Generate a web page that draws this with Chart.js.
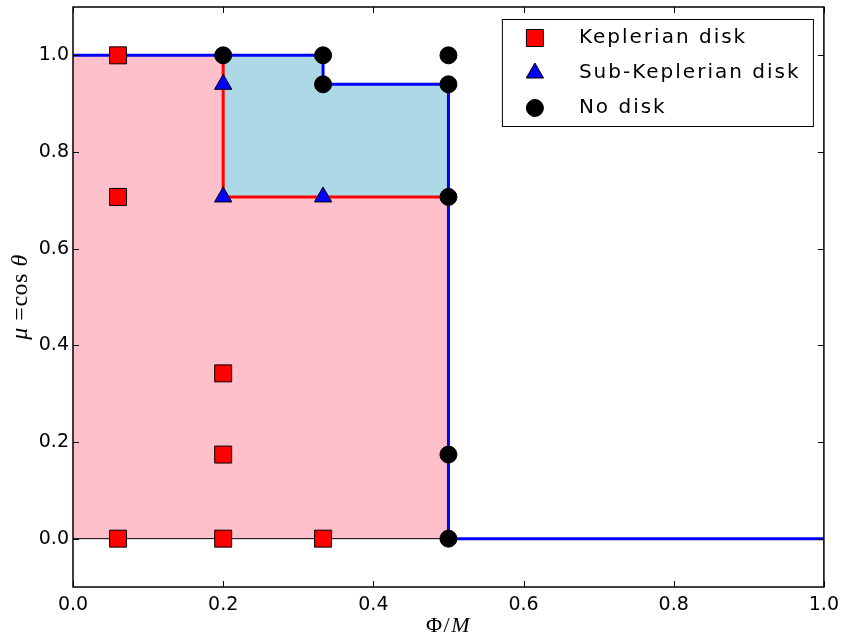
<!DOCTYPE html>
<html>
<head>
<meta charset="utf-8">
<script src="https://cdn.jsdelivr.net/npm/chart.js@4/dist/chart.umd.min.js"></script>
<style>
  html, body { margin: 0; padding: 0; background: #fff; }
  #wrap { width: 846px; height: 639px; }
</style>
</head>
<body>
<div id="wrap"><canvas id="c" width="846" height="639"></canvas></div>
<script>
// ---- data ----
const X_TICKS = [0.0, 0.2, 0.4, 0.6, 0.8, 1.0];
const Y_TICKS = [0.0, 0.2, 0.4, 0.6, 0.8, 1.0];

// Keplerian disk (red squares)
const KEP_X = [0.06, 0.06, 0.2, 0.2, 0.06, 0.2, 0.333];
const KEP_Y = [1.0, 0.707, 0.342, 0.174, 0.0, 0.0, 0.0];
// Sub-Keplerian disk (blue triangles)
const SUB_X = [0.2, 0.2, 0.333];
const SUB_Y = [0.94, 0.707, 0.707];
// No disk (black circles)
const NO_X = [0.2, 0.333, 0.333, 0.5, 0.5, 0.5, 0.5, 0.5];
const NO_Y = [1.0, 1.0, 0.94, 1.0, 0.94, 0.707, 0.174, 0.0];

// region boundaries
const SUB_TOP_X = [0.2, 0.333, 0.333, 0.5];
const SUB_TOP_Y = [1.0, 1.0, 0.94, 0.94];
const KEP_TOP_X = [0.0, 0.2, 0.2, 0.5];
const KEP_TOP_Y = [1.0, 1.0, 0.707, 0.707];
const RED_X = [0.2, 0.2, 0.5];
const RED_Y = [1.0, 0.707, 0.707];
const BLUE_X = [0.0, 0.333, 0.333, 0.5, 0.5, 1.0];
const BLUE_Y = [1.0, 1.0, 0.94, 0.94, 0.0, 0.0];
const BASE_X = [0.0, 0.5];
const BASE_Y = [0.0, 0.0];

const pts = (xs, ys) => xs.map((x, i) => ({ x, y: ys[i] }));

const LEGEND = [
  { label: "Keplerian disk", style: "rect", color: "#FF0000", r: 12 },
  { label: "Sub-Keplerian disk", style: "triangle", color: "#0000FF", r: 10 },
  { label: "No disk", style: "circle", color: "#000000", r: 8.5 },
];

// axis labels, split in [text, italic?] runs like mathtext
const X_LABEL = [["Φ", false], ["/", false], ["M", true]];
const Y_LABEL = [["μ", true], [" =", false], ["cos ", false], ["θ", true]];

function drawMarker(ctx, style, x, y, r, color) {
  ctx.save();
  ctx.fillStyle = color;
  ctx.strokeStyle = "#000";
  ctx.lineWidth = 1;
  ctx.beginPath();
  if (style === "rect") {
    const s = Math.SQRT1_2 * r;
    ctx.rect(x - s, y - s, 2 * s, 2 * s);
  } else if (style === "triangle") {
    ctx.moveTo(x, y - r);
    ctx.lineTo(x + 0.866 * r, y + r / 2);
    ctx.lineTo(x - 0.866 * r, y + r / 2);
    ctx.closePath();
  } else {
    ctx.arc(x, y, r, 0, Math.PI * 2);
  }
  ctx.fill();
  ctx.stroke();
  ctx.restore();
}

function drawRuns(ctx, runs, size, spacing) {
  const fontOf = (it) => (it ? "italic " : "") + size + "px 'Liberation Serif'";
  ctx.letterSpacing = spacing + "px";
  let w = 0;
  runs.forEach(([t, it]) => { ctx.font = fontOf(it); w += ctx.measureText(t).width; });
  let x = -w / 2;
  runs.forEach(([t, it]) => {
    ctx.font = fontOf(it);
    ctx.fillText(t, x, 0);
    x += ctx.measureText(t).width;
  });
  ctx.letterSpacing = "0px";
}

// frame, inward ticks on all sides, y tick labels, axis labels and the legend box
const framePlugin = {
  id: "frame",
  afterDraw(chart) {
    const { ctx, chartArea: a, scales } = chart;
    const len = 6;
    ctx.save();
    ctx.strokeStyle = "#000";
    ctx.lineWidth = 1;
    ctx.beginPath();
    X_TICKS.forEach((v) => {
      const px = Math.round(scales.x.getPixelForValue(v)) + 0.5;
      ctx.moveTo(px, a.bottom); ctx.lineTo(px, a.bottom - len);
      ctx.moveTo(px, a.top); ctx.lineTo(px, a.top + len);
    });
    Y_TICKS.forEach((v) => {
      const py = Math.round(scales.y.getPixelForValue(v)) + 0.5;
      ctx.moveTo(a.left, py); ctx.lineTo(a.left + len, py);
      ctx.moveTo(a.right, py); ctx.lineTo(a.right - len, py);
    });
    ctx.stroke();
    ctx.lineWidth = 1.5;
    ctx.strokeRect(a.left, a.top, a.right - a.left, a.bottom - a.top);

    // y tick labels
    ctx.fillStyle = "#000";
    ctx.font = "19px 'DejaVu Sans'";
    ctx.textAlign = "right";
    ctx.textBaseline = "middle";
    Y_TICKS.forEach((v) => {
      ctx.fillText(v.toFixed(1), a.left - 4, scales.y.getPixelForValue(v));
    });
    ctx.textAlign = "left";

    // axis labels
    ctx.textBaseline = "alphabetic";
    ctx.save();
    ctx.translate((a.left + a.right) / 2, a.bottom + 45);
    drawRuns(ctx, X_LABEL, 22, 1.5);
    ctx.restore();
    ctx.save();
    ctx.translate(a.left - 46, (a.top + a.bottom) / 2);
    ctx.rotate(-Math.PI / 2);
    drawRuns(ctx, Y_LABEL, 24, 0.5);
    ctx.restore();

    // legend
    const bx = a.right - 322, by = a.top + 12, bw = 311, bh = 107;
    ctx.fillStyle = "#fff";
    ctx.fillRect(bx, by, bw, bh);
    ctx.lineWidth = 1;
    ctx.strokeRect(bx + 0.5, by + 0.5, bw, bh);
    ctx.font = "20px 'DejaVu Sans'";
    ctx.letterSpacing = "2px";
    ctx.textBaseline = "middle";
    LEGEND.forEach((e, i) => {
      const cy = by + 19 + i * 35;
      drawMarker(ctx, e.style, bx + 33, cy, e.r, e.color);
      ctx.fillStyle = "#000";
      ctx.fillText(e.label, bx + 77, cy);
    });
    ctx.restore();
  },
};

const lineDs = (xs, ys, extra) => Object.assign({
  data: pts(xs, ys),
  showLine: true,
  pointRadius: 0,
  pointHoverRadius: 0,
  borderWidth: 0,
  fill: false,
}, extra);

new Chart(document.getElementById("c"), {
  type: "scatter",
  data: {
    datasets: [
      lineDs(SUB_TOP_X, SUB_TOP_Y, { order: 10, fill: "origin", backgroundColor: "#ADD8E6", borderColor: "rgba(0,0,0,0)" }),
      lineDs(KEP_TOP_X, KEP_TOP_Y, { order: 9, fill: "origin", backgroundColor: "#FFC0CB", borderColor: "rgba(0,0,0,0)" }),
      lineDs(BASE_X, BASE_Y, { order: 8, borderColor: "#000", borderWidth: 1 }),
      lineDs(RED_X, RED_Y, { order: 7, borderColor: "#FF0000", borderWidth: 3 }),
      lineDs(BLUE_X, BLUE_Y, { order: 6, borderColor: "#0000FF", borderWidth: 3 }),
      {
        label: "Keplerian disk", order: 3, data: pts(KEP_X, KEP_Y),
        pointStyle: "rect", pointRadius: 12, backgroundColor: "#FF0000",
        borderColor: "#000", borderWidth: 1,
      },
      {
        label: "Sub-Keplerian disk", order: 2, data: pts(SUB_X, SUB_Y),
        pointStyle: "triangle", pointRadius: 10, backgroundColor: "#0000FF",
        borderColor: "#000", borderWidth: 1,
      },
      {
        label: "No disk", order: 1, data: pts(NO_X, NO_Y),
        pointStyle: "circle", pointRadius: 8.5, backgroundColor: "#000",
        borderColor: "#000", borderWidth: 1,
      },
    ],
  },
  options: {
    responsive: false,
    animation: false,
    events: [],
    // autoPadding would push the plot down by the largest marker radius
    layout: { autoPadding: false, padding: { top: 7, right: 22, left: 0, bottom: 0 } },
    plugins: { legend: { display: false }, tooltip: { enabled: false } },
    scales: {
      x: {
        type: "linear", min: 0, max: 1,
        afterBuildTicks: (s) => { s.ticks = X_TICKS.map((v) => ({ value: v })); },
        afterFit: (s) => { s.height = 52; },
        grid: { display: false, drawTicks: false },
        border: { display: false },
        ticks: {
          padding: 7, color: "#000", font: { family: "DejaVu Sans", size: 19 },
          callback: (v) => v.toFixed(1),
        },
      },
      y: {
        type: "linear", min: -0.1, max: 1.1,
        afterFit: (s) => { s.width = 73; },
        grid: { display: false, drawTicks: false },
        border: { display: false },
        ticks: { display: false },
      },
    },
  },
  plugins: [framePlugin],
});
</script>
</body>
</html>
